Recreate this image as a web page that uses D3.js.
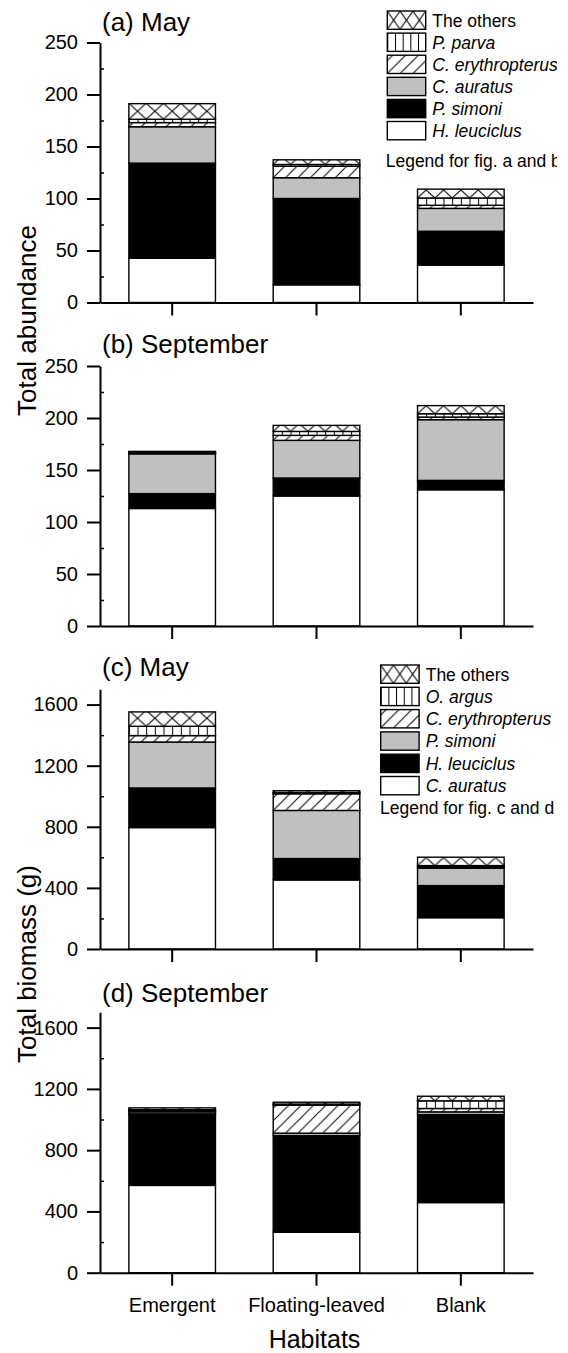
<!DOCTYPE html>
<html><head><meta charset="utf-8">
<script src="https://cdn.jsdelivr.net/npm/d3@7"></script>
<style>
body{margin:0;background:#fff}
svg{display:block}
text{font-family:"Liberation Sans",Arial,Helvetica,sans-serif;fill:#000}
</style>
</head><body>
<svg id="chart" width="568" height="1353"></svg>
<script>
// ---------- DATA ----------
const habitats = ["Emergent", "Floating-leaved", "Blank"];

// Legend labels (bottom -> top of stack)
const abundanceSpecies = ["H. leuciclus", "P. simoni", "C. auratus", "C. erythropterus", "P. parva", "The others"];
const biomassSpecies   = ["C. auratus", "H. leuciclus", "P. simoni", "C. erythropterus", "O. argus", "The others"];

// (a) May, total abundance
const mayAbundHLeuciclus = [42.5, 17, 36];
const mayAbundPSimoni    = [91.5, 83, 32.5];
const mayAbundCAuratus   = [35, 20, 22];
const mayAbundCEry       = [4, 11, 3];
const mayAbundPParva     = [3.2, 1.7, 7];
const mayAbundOthers     = [15, 4.5, 8.5];

// (b) September, total abundance
const sepAbundHLeuciclus = [113, 125, 131];
const sepAbundPSimoni    = [14.3, 17.3, 9];
const sepAbundCAuratus   = [38.3, 36.2, 58.4];
const sepAbundCEry       = [0.3, 4.8, 2.5];
const sepAbundPParva     = [1.5, 3.8, 3.2];
const sepAbundOthers     = [0.5, 5.8, 7.8];

// (c) May, total biomass (g)
const mayBioCAuratus   = [795, 452, 205];
const mayBioHLeuciclus = [259, 140, 210];
const mayBioPSimoni    = [301, 315, 114];
const mayBioCEry       = [42, 109, 8];
const mayBioOArgus     = [61, 8, 9];
const mayBioOthers     = [94, 12, 55];

// (d) September, total biomass (g)
const sepBioCAuratus   = [570, 264, 458];
const sepBioHLeuciclus = [467, 631, 574];
const sepBioPSimoni    = [13, 16, 18];
const sepBioCEry       = [6, 182, 22];
const sepBioOArgus     = [8, 8, 50];
const sepBioOthers     = [12, 12, 30];

const abundanceTicks = [0, 50, 100, 150, 200, 250];
const biomassTicks   = [0, 400, 800, 1200, 1600];

// ---------- LAYOUT / STYLE ----------
const styles = ["white", "black", "gray", "diag", "vert", "cross"];
const W = 568, H = 1353;
const plotLeft = 100, plotRight = 533;

const panels = [
  {title: "(a) May", titleY: 31, y0: 302.5, top: 42.5, max: 250, ticks: abundanceTicks, minorStep: 25,
   series: [mayAbundHLeuciclus, mayAbundPSimoni, mayAbundCAuratus, mayAbundCEry, mayAbundPParva, mayAbundOthers],
   legend: {names: abundanceSpecies, x: 387.3, top: 11, step: 22.1, textX: 432.3, caption: "Legend for fig. a and b", capX: 385.7, capY: 167}},
  {title: "(b) September", titleY: 353.3, y0: 626, top: 366, max: 250, ticks: abundanceTicks, minorStep: 25,
   series: [sepAbundHLeuciclus, sepAbundPSimoni, sepAbundCAuratus, sepAbundCEry, sepAbundPParva, sepAbundOthers]},
  {title: "(c) May", titleY: 676, y0: 949, top: 689.3, max: 1700, ticks: biomassTicks, minorStep: 200,
   series: [mayBioCAuratus, mayBioHLeuciclus, mayBioPSimoni, mayBioCEry, mayBioOArgus, mayBioOthers],
   legend: {names: biomassSpecies, x: 380.7, top: 665, step: 22.3, textX: 425.7, caption: "Legend for fig. c and d", capX: 380, capY: 814}},
  {title: "(d) September", titleY: 1001.5, y0: 1272.7, top: 1012.3, max: 1700, ticks: biomassTicks, minorStep: 200,
   series: [sepBioCAuratus, sepBioHLeuciclus, sepBioPSimoni, sepBioCEry, sepBioOArgus, sepBioOthers], xLabels: true}
];

const svg = d3.select("#chart");
svg.append("rect").attr("width", W).attr("height", H).attr("fill", "#fff");
const defs = svg.append("defs");

// the original figure is cropped a little before the right edge
defs.append("clipPath").attr("id", "figclip")
  .append("rect").attr("x", 0).attr("y", 0).attr("width", 557).attr("height", H);

function makePattern(id, w, h, d) {
  const p = defs.append("pattern").attr("id", id)
    .attr("patternUnits", "userSpaceOnUse").attr("width", w).attr("height", h);
  p.append("rect").attr("width", w).attr("height", h).attr("fill", "#fff");
  p.append("path").attr("d", d).attr("stroke", "#000").attr("stroke-width", 1).attr("fill", "none");
}
function crossD(w, h) { return `M0,0L${w},${h}M${w},0L0,${h}`; }
function diagD(w, h) { return `M0,${h}L${w},0M${-w/4},${h/4}L${w/4},${-h/4}M${w*3/4},${h*5/4}L${w*5/4},${h*3/4}`; }
function vertD(w, h) { return `M0.5,0V${h}`; }

const boxW = 38.4, boxH = 18.3;
makePattern("cross-bar", 17.33, 16, crossD(17.33, 16));
makePattern("diag-bar", 12.4, 12.4, diagD(12.4, 12.4));
makePattern("vert-bar", 8.66, 10, vertD(8.66, 10));
makePattern("cross-leg", boxW / 3, boxH, crossD(boxW / 3, boxH));
makePattern("diag-leg", 12.8, 12.8, diagD(12.8, 12.8));
makePattern("vert-leg", boxW / 5, boxH, vertD(boxW / 5, boxH));

function fillFor(style, kind) {
  if (style === "white") return "#fff";
  if (style === "black") return "#000";
  if (style === "gray") return "#c0c0c0";
  return `url(#${style}-${kind})`;
}

const x = d3.scaleBand().domain(habitats).range([plotLeft, plotRight])
  .paddingInner(0.4).paddingOuter(0.2);
const bw = x.bandwidth();
const fmt = d3.format("d");

panels.forEach(p => {
  const y = d3.scaleLinear().domain([0, p.max]).range([p.y0, p.top]);
  const g = svg.append("g");

  // stacked bars
  const rows = habitats.map((h, i) => {
    const r = {habitat: h};
    p.series.forEach((s, k) => r[k] = s[i]);
    return r;
  });
  const stacked = d3.stack().keys(d3.range(p.series.length))(rows);
  stacked.forEach((layer, k) => {
    layer.forEach(d => {
      const hgt = y(d[0]) - y(d[1]);
      const bg = g.append("g").attr("transform", `translate(${x(d.data.habitat)},${y(d[0])})`);
      bg.append("rect").attr("x", 0).attr("y", -hgt).attr("width", bw).attr("height", hgt)
        .attr("fill", fillFor(styles[k], "bar"))
        .attr("stroke", "#000").attr("stroke-width", 1.4);
    });
  });

  // y axis (major)
  const yAxis = g.append("g").attr("transform", `translate(${plotLeft},0)`)
    .call(d3.axisLeft(y).tickValues(p.ticks).tickFormat(fmt).tickSize(13).tickSizeOuter(0).tickPadding(9));
  yAxis.select(".domain").attr("stroke-width", 2);
  yAxis.selectAll(".tick line").attr("stroke-width", 2);
  yAxis.selectAll(".tick text").attr("font-size", 20);

  // y axis (minor, inward)
  const minor = d3.range(p.minorStep, p.max + 0.001, p.minorStep).filter(v => !p.ticks.includes(v));
  const yMinor = g.append("g").attr("transform", `translate(${plotLeft},0)`)
    .call(d3.axisLeft(y).tickValues(minor).tickSize(-4).tickFormat(""));
  yMinor.select(".domain").remove();
  yMinor.selectAll(".tick line").attr("stroke-width", 1.5);

  // x axis
  const xAxis = g.append("g").attr("transform", `translate(0,${p.y0})`)
    .call(d3.axisBottom(x).tickSize(13).tickSizeOuter(0).tickPadding(12.3)
      .tickFormat(p.xLabels ? (d => d) : ""));
  xAxis.select(".domain").attr("stroke-width", 2);
  xAxis.selectAll(".tick line").attr("stroke-width", 2);
  xAxis.selectAll(".tick text").attr("font-size", 20);

  // panel title
  g.append("text").attr("x", 102).attr("y", p.titleY).attr("font-size", 26).text(p.title);

  // legend
  if (p.legend) {
    const L = p.legend;
    const lg = svg.append("g").attr("clip-path", "url(#figclip)");
    const legendStyles = styles.slice().reverse();
    L.names.slice().reverse().forEach((name, i) => {
      const top = L.top + i * L.step;
      const style = legendStyles[i];
      const bg = lg.append("g").attr("transform", `translate(${L.x},${top + boxH})`);
      bg.append("rect").attr("x", 0).attr("y", -boxH).attr("width", boxW).attr("height", boxH)
        .attr("fill", fillFor(style, "leg")).attr("stroke", "#000").attr("stroke-width", 1.4);
      lg.append("text").attr("x", L.textX).attr("y", top + 15.5).attr("font-size", 17.5)
        .attr("font-style", name === "The others" ? "normal" : "italic").text(name);
    });
    lg.append("text").attr("x", L.capX).attr("y", L.capY).attr("font-size", 17.5).text(L.caption);
  }
});

// axis titles
svg.append("text").attr("transform", "translate(36,320.5) rotate(-90)")
  .attr("text-anchor", "middle").attr("font-size", 26).text("Total abundance");
svg.append("text").attr("transform", "translate(36,964) rotate(-90)")
  .attr("text-anchor", "middle").attr("font-size", 26).text("Total biomass (g)");
svg.append("text").attr("x", (plotLeft + plotRight) / 2 - 2).attr("y", 1348)
  .attr("text-anchor", "middle").attr("font-size", 25).text("Habitats");
</script>
</body></html>
